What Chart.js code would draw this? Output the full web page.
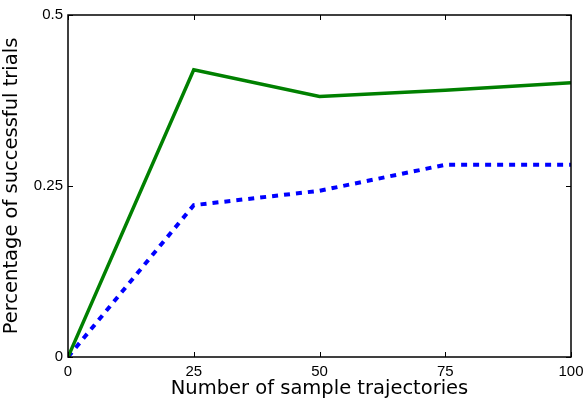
<!DOCTYPE html>
<html>
<head>
<meta charset="utf-8">
<script src="https://cdn.jsdelivr.net/npm/chart.js@4"></script>
<style>
  html, body { margin: 0; padding: 0; background: #fff; }
  #wrap { width: 586px; height: 401px; }
</style>
</head>
<body>
<div id="wrap"><canvas id="trialsChart" width="586" height="401"></canvas></div>
<script>
// --- DATA ---
const sampleCounts = [0, 25, 50, 75, 100];
const successSolid = [0, 0.42, 0.381, 0.39, 0.401];
const successDashed = [0, 0.222, 0.243, 0.281, 0.281];
const xTicks = [0, 25, 50, 75, 100];
const yTicks = [0, 0.25, 0.5];
const yTickLabels = ['0', '0.25', '0.5'];

const titleFont = 'DejaVu Sans';
const tickFont = 'Liberation Sans';

// matplotlib-style box + inward ticks
const boxTicks = {
    id: 'boxTicks',
    afterDraw(chart) {
        const { ctx, chartArea: a, scales } = chart;
        ctx.save();
        ctx.strokeStyle = '#000';
        ctx.lineWidth = 1.5;
        ctx.strokeRect(a.left, a.top, a.right - a.left, a.bottom - a.top);
        ctx.lineWidth = 1;
        const len = 5;
        ctx.beginPath();
        xTicks.forEach(v => {
            const px = Math.round(scales.x.getPixelForValue(v)) + 0.5;
            ctx.moveTo(px, a.bottom); ctx.lineTo(px, a.bottom - len);
            ctx.moveTo(px, a.top); ctx.lineTo(px, a.top + len);
        });
        yTicks.forEach(v => {
            const py = Math.round(scales.y.getPixelForValue(v)) + 0.5;
            ctx.moveTo(a.left, py); ctx.lineTo(a.left + len, py);
            ctx.moveTo(a.right, py); ctx.lineTo(a.right - len, py);
        });
        ctx.stroke();
        ctx.restore();
    }
};

new Chart(document.getElementById('trialsChart'), {
    type: 'line',
    data: {
        datasets: [{
            data: sampleCounts.map((x, i) => ({ x, y: successSolid[i] })),
            borderColor: '#008000',
            borderWidth: 3.5,
            pointRadius: 0,
            tension: 0
        }, {
            data: sampleCounts.map((x, i) => ({ x, y: successDashed[i] })),
            borderColor: '#0000ff',
            borderWidth: 4,
            borderDash: [6, 6],
            pointRadius: 0,
            tension: 0
        }]
    },
    options: {
        responsive: false,
        animation: false,
        layout: { padding: { left: 0, right: 15, top: 15, bottom: 0 } },
        plugins: { legend: { display: false }, tooltip: { enabled: false } },
        scales: {
            x: {
                type: 'linear', min: 0, max: 100,
                afterBuildTicks: s => { s.ticks = xTicks.map(v => ({ value: v })); },
                afterFit: s => { s.height = 44; s.paddingLeft = 0; s.paddingRight = 0; },
                grid: { display: false, drawTicks: false },
                border: { display: false },
                ticks: { color: '#000', font: { family: tickFont, size: 15 }, padding: 6, maxRotation: 0 },
                title: { display: true, text: 'Number of sample trajectories', color: '#000', font: { family: titleFont, size: 19.5 }, padding: { top: 0, bottom: 0 } }
            },
            y: {
                type: 'linear', min: 0, max: 0.5,
                afterBuildTicks: s => { s.ticks = yTicks.map(v => ({ value: v })); },
                afterFit: s => { s.width = 68; s.paddingTop = 0; s.paddingBottom = 0; },
                grid: { display: false, drawTicks: false },
                border: { display: false },
                ticks: {
                    color: '#000', font: { family: tickFont, size: 15 }, padding: 5,
                    callback: v => yTickLabels[yTicks.indexOf(v)]
                },
                title: { display: true, text: 'Percentage of successful trials', color: '#000', font: { family: titleFont, size: 19.5 }, padding: { top: 0, bottom: 2 } }
            }
        }
    },
    plugins: [boxTicks]
});
</script>
</body>
</html>
